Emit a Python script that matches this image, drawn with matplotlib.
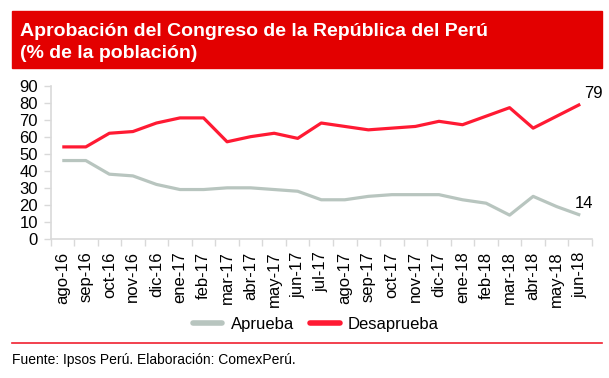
import matplotlib
matplotlib.use("Agg")
import matplotlib.pyplot as plt
from matplotlib.patches import Rectangle
from matplotlib.lines import Line2D

months = ["ago-16", "sep-16", "oct-16", "nov-16", "dic-16", "ene-17", "feb-17",
          "mar-17", "abr-17", "may-17", "jun-17", "jul-17", "ago-17", "sep-17",
          "oct-17", "nov-17", "dic-17", "ene-18", "feb-18", "mar-18", "abr-18",
          "may-18", "jun-18"]
aprueba = [46, 46, 38, 37, 32, 29, 29, 30, 30, 29, 28, 23, 23, 25, 26, 26, 26,
           23, 21, 14, 25, 19, 14]
desaprueba = [54, 54, 62, 63, 68, 71, 71, 57, 60, 62, 59, 68, 66, 64, 65, 66, 69,
              67, 72, 77, 65, 72, 79]
yticks = [0, 10, 20, 30, 40, 50, 60, 70, 80, 90]

plt.rcParams['font.family'] = ['Liberation Sans', 'DejaVu Sans']

W, H = 609, 378
fig = plt.figure(figsize=(W / 100, H / 100), dpi=100)

def fx(px):
    return px / W

def fy(py):
    return 1 - py / H

# Title box
fig.patches.append(Rectangle((fx(12), fy(67.5)), fx(602) - fx(12), fy(11) - fy(67.5),
                             transform=fig.transFigure, color="#E30000", zorder=0))
fig.text(fx(20), fy(31.5), "Aprobación del Congreso de la República del Perú",
         color="white", fontsize=14, fontweight="bold", va="center", ha="left")
fig.text(fx(20), fy(53.5), "(% de la población)",
         color="white", fontsize=14, fontweight="bold", va="center", ha="left")

# Axes
left, right, top, bottom = 50.5, 592, 85.5, 239
ax = fig.add_axes([fx(left), fy(bottom), fx(right) - fx(left), fy(top) - fy(bottom)])
n = len(months)
x = list(range(n))
gray = "#B8C5BF"
red = "#FF1A33"
ax.plot(x, aprueba, color=gray, lw=2.3, solid_capstyle="butt", label="Aprueba")
ax.plot(x, desaprueba, color=red, lw=2.3, solid_capstyle="butt", label="Desaprueba")
ax.set_xlim(-0.5, n - 0.5)
ax.set_ylim(0, 90)
ax.set_yticks(yticks)
ax.set_yticklabels([str(v) for v in yticks], fontsize=12)
ax.set_xticks(x)
ax.set_xticklabels(months, rotation=90, fontsize=12)
ax.set_xticks([i - 0.5 for i in range(n + 1)], minor=True)
ax.tick_params(axis="x", which="major", length=0, pad=9)
ax.tick_params(axis="x", which="minor", length=5, color="#D9D9D9", width=1)
ax.tick_params(axis="y", length=5, color="#D9D9D9", width=1, pad=4)
for s in ["top", "right"]:
    ax.spines[s].set_visible(False)
for s in ["left", "bottom"]:
    ax.spines[s].set_color("#D9D9D9")
    ax.spines[s].set_linewidth(1.2)
ax.set_facecolor("none")

ax.annotate(str(desaprueba[-1]), (x[-1], desaprueba[-1]), xytext=(3, 2),
            textcoords="offset points", fontsize=12, ha="left", va="bottom")
ax.annotate(str(aprueba[-1]), (x[-1], aprueba[-1]), xytext=(3, 3),
            textcoords="offset points", fontsize=12, ha="center", va="bottom")

handles = [Line2D([], [], color=gray, lw=4, solid_capstyle="round"),
           Line2D([], [], color=red, lw=4, solid_capstyle="round")]
fig.legend(handles, ["Aprueba", "Desaprueba"], loc="center",
           bbox_to_anchor=(fx(316), fy(324)), ncol=2, frameon=False, fontsize=12,
           handlelength=1.75, handletextpad=0.5, columnspacing=1.0)

# Footer rule and source
fig.add_artist(Line2D([fx(12), fx(602)], [fy(343.3), fy(343.3)], color="#F02030", lw=1.2,
                      transform=fig.transFigure))
fig.text(fx(12), fy(360), "Fuente: Ipsos Perú. Elaboración: ComexPerú.",
         fontsize=10, va="center", ha="left")

fig.savefig("out.png", dpi=100)
